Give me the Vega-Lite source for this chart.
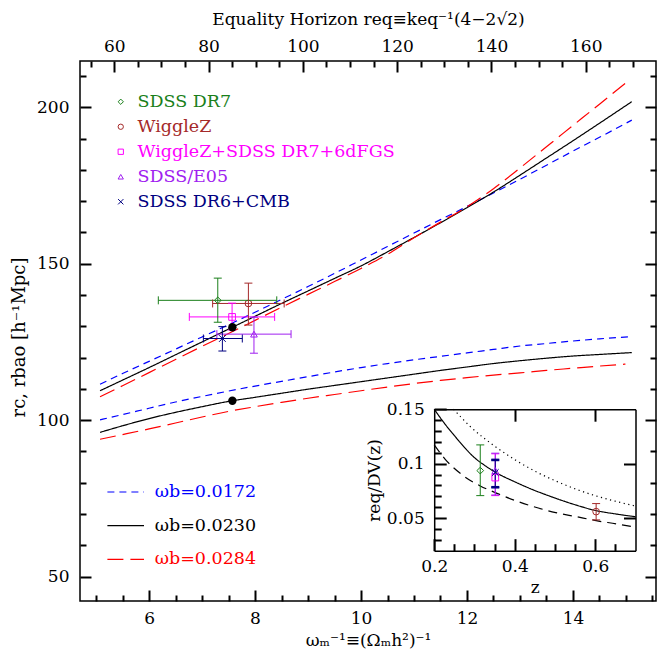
{
"$schema":"https://vega.github.io/schema/vega-lite/v6.json",
"width":576,"height":540,
"autosize":{"type":"none"},
"padding":{"left":80,"top":61,"right":1,"bottom":52},
"background":"white",
"config":{
 "font":"DejaVu Serif",
 "view":{"stroke":"black","strokeWidth":1.5},
 "axis":{"grid":false,"labelFont":"DejaVu Serif","labelFontSize":17,"labelColor":"black","titleFont":"DejaVu Serif","titleFontSize":17,"titleFontWeight":"normal","titleColor":"black","domainColor":"black","domainWidth":1.5,"labelFlush":false,"labelOverlap":false},
 "legend":{"labelFont":"DejaVu Serif","titleFont":"DejaVu Serif"}
},
"datasets":{
"curves":[
{"w":"0.0172","b":"u","x":5.075,"y":111.5},{"w":"0.0172","b":"u","x":5.5,"y":114.9},{"w":"0.0172","b":"u","x":6,"y":118.8},{"w":"0.0172","b":"u","x":6.5,"y":122.7},{"w":"0.0172","b":"u","x":7,"y":126.6},{"w":"0.0172","b":"u","x":7.5,"y":130.5},{"w":"0.0172","b":"u","x":8,"y":134.5},{"w":"0.0172","b":"u","x":8.5,"y":138.6},{"w":"0.0172","b":"u","x":9,"y":142.7},{"w":"0.0172","b":"u","x":9.5,"y":146.9},{"w":"0.0172","b":"u","x":10,"y":151.2},{"w":"0.0172","b":"u","x":10.5,"y":155.5},{"w":"0.0172","b":"u","x":11,"y":159.8},{"w":"0.0172","b":"u","x":11.5,"y":164.1},{"w":"0.0172","b":"u","x":12,"y":168.3},{"w":"0.0172","b":"u","x":12.5,"y":172.6},{"w":"0.0172","b":"u","x":13,"y":177.0},{"w":"0.0172","b":"u","x":13.5,"y":181.5},{"w":"0.0172","b":"u","x":14,"y":186.0},{"w":"0.0172","b":"u","x":14.5,"y":190.4},{"w":"0.0172","b":"u","x":15.11,"y":195.9},
{"w":"0.0230","b":"u","x":5.075,"y":109.4},{"w":"0.0230","b":"u","x":5.5,"y":112.8},{"w":"0.0230","b":"u","x":6,"y":116.8},{"w":"0.0230","b":"u","x":6.5,"y":120.9},{"w":"0.0230","b":"u","x":7,"y":125.0},{"w":"0.0230","b":"u","x":7.5,"y":129.1},{"w":"0.0230","b":"u","x":8,"y":133.2},{"w":"0.0230","b":"u","x":8.5,"y":137.3},{"w":"0.0230","b":"u","x":9,"y":141.3},{"w":"0.0230","b":"u","x":9.5,"y":145.3},{"w":"0.0230","b":"u","x":10,"y":149.3},{"w":"0.0230","b":"u","x":10.5,"y":153.8},{"w":"0.0230","b":"u","x":11,"y":158.4},{"w":"0.0230","b":"u","x":11.5,"y":163.1},{"w":"0.0230","b":"u","x":12,"y":167.9},{"w":"0.0230","b":"u","x":12.5,"y":172.9},{"w":"0.0230","b":"u","x":13,"y":178.3},{"w":"0.0230","b":"u","x":13.5,"y":183.8},{"w":"0.0230","b":"u","x":14,"y":189.3},{"w":"0.0230","b":"u","x":14.5,"y":194.9},{"w":"0.0230","b":"u","x":15.11,"y":201.8},
{"w":"0.0284","b":"u","x":5.075,"y":107.5},{"w":"0.0284","b":"u","x":5.5,"y":111.0},{"w":"0.0284","b":"u","x":6,"y":115.2},{"w":"0.0284","b":"u","x":6.5,"y":119.4},{"w":"0.0284","b":"u","x":7,"y":123.6},{"w":"0.0284","b":"u","x":7.5,"y":127.7},{"w":"0.0284","b":"u","x":8,"y":131.9},{"w":"0.0284","b":"u","x":8.5,"y":136.1},{"w":"0.0284","b":"u","x":9,"y":140.2},{"w":"0.0284","b":"u","x":9.5,"y":144.3},{"w":"0.0284","b":"u","x":10,"y":148.5},{"w":"0.0284","b":"u","x":10.5,"y":153.0},{"w":"0.0284","b":"u","x":11,"y":158.3},{"w":"0.0284","b":"u","x":11.5,"y":163.3},{"w":"0.0284","b":"u","x":12,"y":168.2},{"w":"0.0284","b":"u","x":12.5,"y":174.0},{"w":"0.0284","b":"u","x":13,"y":180.6},{"w":"0.0284","b":"u","x":13.5,"y":187.4},{"w":"0.0284","b":"u","x":14,"y":194.2},{"w":"0.0284","b":"u","x":14.5,"y":201.0},{"w":"0.0284","b":"u","x":14.99,"y":207.7},
{"w":"0.0172","b":"l","x":5.075,"y":100.1},{"w":"0.0172","b":"l","x":5.5,"y":101.8},{"w":"0.0172","b":"l","x":6,"y":103.8},{"w":"0.0172","b":"l","x":6.5,"y":105.8},{"w":"0.0172","b":"l","x":7,"y":107.6},{"w":"0.0172","b":"l","x":7.5,"y":109.3},{"w":"0.0172","b":"l","x":8,"y":110.9},{"w":"0.0172","b":"l","x":8.5,"y":112.4},{"w":"0.0172","b":"l","x":9,"y":113.9},{"w":"0.0172","b":"l","x":9.5,"y":115.4},{"w":"0.0172","b":"l","x":10,"y":116.8},{"w":"0.0172","b":"l","x":10.5,"y":118.1},{"w":"0.0172","b":"l","x":11,"y":119.3},{"w":"0.0172","b":"l","x":11.5,"y":120.4},{"w":"0.0172","b":"l","x":12,"y":121.5},{"w":"0.0172","b":"l","x":12.5,"y":122.6},{"w":"0.0172","b":"l","x":13,"y":123.7},{"w":"0.0172","b":"l","x":13.5,"y":124.5},{"w":"0.0172","b":"l","x":14,"y":125.3},{"w":"0.0172","b":"l","x":14.5,"y":126.0},{"w":"0.0172","b":"l","x":15.11,"y":126.7},
{"w":"0.0230","b":"l","x":5.075,"y":96.1},{"w":"0.0230","b":"l","x":5.5,"y":98.2},{"w":"0.0230","b":"l","x":6,"y":100.5},{"w":"0.0230","b":"l","x":6.5,"y":102.5},{"w":"0.0230","b":"l","x":7,"y":104.3},{"w":"0.0230","b":"l","x":7.5,"y":106.0},{"w":"0.0230","b":"l","x":8,"y":107.3},{"w":"0.0230","b":"l","x":8.5,"y":108.6},{"w":"0.0230","b":"l","x":9,"y":109.9},{"w":"0.0230","b":"l","x":9.5,"y":111.1},{"w":"0.0230","b":"l","x":10,"y":112.3},{"w":"0.0230","b":"l","x":10.5,"y":113.5},{"w":"0.0230","b":"l","x":11,"y":114.7},{"w":"0.0230","b":"l","x":11.5,"y":115.9},{"w":"0.0230","b":"l","x":12,"y":117.0},{"w":"0.0230","b":"l","x":12.5,"y":118.1},{"w":"0.0230","b":"l","x":13,"y":119.0},{"w":"0.0230","b":"l","x":13.5,"y":119.8},{"w":"0.0230","b":"l","x":14,"y":120.5},{"w":"0.0230","b":"l","x":14.5,"y":121.0},{"w":"0.0230","b":"l","x":15.11,"y":121.6},
{"w":"0.0284","b":"l","x":5.075,"y":93.9},{"w":"0.0284","b":"l","x":5.5,"y":95.4},{"w":"0.0284","b":"l","x":6,"y":97.2},{"w":"0.0284","b":"l","x":6.5,"y":99.1},{"w":"0.0284","b":"l","x":7,"y":101.0},{"w":"0.0284","b":"l","x":7.5,"y":102.8},{"w":"0.0284","b":"l","x":8,"y":104.3},{"w":"0.0284","b":"l","x":8.5,"y":105.7},{"w":"0.0284","b":"l","x":9,"y":107.0},{"w":"0.0284","b":"l","x":9.5,"y":108.2},{"w":"0.0284","b":"l","x":10,"y":109.4},{"w":"0.0284","b":"l","x":10.5,"y":110.6},{"w":"0.0284","b":"l","x":11,"y":111.7},{"w":"0.0284","b":"l","x":11.5,"y":112.7},{"w":"0.0284","b":"l","x":12,"y":113.6},{"w":"0.0284","b":"l","x":12.5,"y":114.4},{"w":"0.0284","b":"l","x":13,"y":115.1},{"w":"0.0284","b":"l","x":13.5,"y":115.9},{"w":"0.0284","b":"l","x":14,"y":116.6},{"w":"0.0284","b":"l","x":14.5,"y":117.3},{"w":"0.0284","b":"l","x":14.99,"y":117.9}
],
"pts":[
{"name":"SDSS DR7","x":7.297,"y":138.3,"xlo":6.175,"xhi":8.41,"ylo":131.3,"yhi":145.4},
{"name":"WiggleZ","x":7.875,"y":137.3,"xlo":7.2,"xhi":8.55,"ylo":130.4,"yhi":143.8},
{"name":"WiggleZ+SDSS DR7+6dFGS","x":7.567,"y":133.0,"xlo":6.76,"xhi":8.37,"ylo":128.8,"yhi":137.4},
{"name":"SDSS/E05","x":7.98,"y":127.5,"xlo":7.28,"xhi":8.68,"ylo":121.4,"yhi":132.9},
{"name":"SDSS DR6+CMB","x":7.384,"y":126.1,"xlo":7.025,"xhi":7.76,"ylo":122.1,"yhi":129.9}
],
"dots":[{"x":7.573,"y":129.7},{"x":7.573,"y":106.2}],
"inset":[
{"c":"solid","z":0.2,"r":0.150},{"c":"solid","z":0.225,"r":0.1372},{"c":"solid","z":0.25,"r":0.1258},{"c":"solid","z":0.275,"r":0.1150},{"c":"solid","z":0.3,"r":0.1055},{"c":"solid","z":0.325,"r":0.0985},{"c":"solid","z":0.35,"r":0.0925},{"c":"solid","z":0.4,"r":0.0833},{"c":"solid","z":0.45,"r":0.0753},{"c":"solid","z":0.5,"r":0.0684},{"c":"solid","z":0.55,"r":0.0622},{"c":"solid","z":0.6,"r":0.0570},{"c":"solid","z":0.65,"r":0.0538},{"c":"solid","z":0.7,"r":0.0512},
{"c":"dotted","z":0.248,"r":0.150},{"c":"dotted","z":0.2896,"r":0.1341},{"c":"dotted","z":0.3517,"r":0.1157},{"c":"dotted","z":0.4015,"r":0.1034},{"c":"dotted","z":0.452,"r":0.0927},{"c":"dotted","z":0.5018,"r":0.0841},{"c":"dotted","z":0.5524,"r":0.0765},{"c":"dotted","z":0.6022,"r":0.0703},{"c":"dotted","z":0.6527,"r":0.0652},{"c":"dotted","z":0.7,"r":0.0610},
{"c":"dashed","z":0.2,"r":0.1172},{"c":"dashed","z":0.2274,"r":0.104},{"c":"dashed","z":0.273,"r":0.0887},{"c":"dashed","z":0.3144,"r":0.0795},{"c":"dashed","z":0.3517,"r":0.0734},{"c":"dashed","z":0.4015,"r":0.066},{"c":"dashed","z":0.452,"r":0.0599},{"c":"dashed","z":0.5018,"r":0.055},{"c":"dashed","z":0.5524,"r":0.0513},{"c":"dashed","z":0.6022,"r":0.0476},{"c":"dashed","z":0.6527,"r":0.0446},{"c":"dashed","z":0.7,"r":0.0415}
],
"ipts":[
{"name":"SDSS DR7","z":0.3144,"r":0.0936,"lo":0.0706,"hi":0.1172},
{"name":"WiggleZ+SDSS DR7+6dFGS","z":0.3517,"r":0.0872,"lo":0.0706,"hi":0.1090},
{"name":"SDSS/E05","z":0.3517,"r":0.0936,"lo":0.0712,"hi":0.1096},
{"name":"SDSS DR6+CMB","z":0.3517,"r":0.0918,"lo":0.0783,"hi":0.1034},
{"name":"WiggleZ","z":0.6022,"r":0.0559,"lo":0.0483,"hi":0.0633}
]
},
"layer":[
{"layer":[
 {"data":{"name":"curves"},"mark":{"type":"line","strokeWidth":1.2,"interpolate":"monotone"},
  "encoding":{
   "x":{"field":"x","type":"quantitative","scale":{"domain":[4.697,15.567],"nice":false,"zero":false},"axis":{"orient":"bottom","values":[6,8,10,12,14],"ticks":true,"tickSize":-11,"tickColor":"black","tickWidth":2,"tickOpacity":1,"domain":false,"labelPadding":20,"title":"ωₘ⁻¹≡(Ωₘh²)⁻¹","titlePadding":6}},
   "y":{"field":"y","type":"quantitative","scale":{"domain":[42.2,214.8],"nice":false,"zero":false},"axis":{"orient":"left","values":[50,100,150,200],"ticks":true,"tickSize":-11,"tickColor":"black","tickWidth":2,"tickOpacity":1,"domain":false,"labelPadding":22,"title":"rc, rbao [h⁻¹Mpc]","titleFontSize":18,"titlePadding":8,"titleY":276}},
   "stroke":{"field":"w","type":"nominal","scale":{"domain":["0.0172","0.0230","0.0284"],"range":["#0000ff","#000000","#ff0000"]},
     "legend":{"orient":"none","legendX":26.7,"legendY":412,"title":null,"padding":0,"labelFont":"DejaVu Serif","labelFontSize":17.5,"labelOffset":10,"rowPadding":5.7,"symbolSize":1340,"symbolStrokeWidth":1.2,"symbolType":"stroke","labelLimit":0,"labelExpr":"'ωb=' + datum.label","labelColor":{"expr":"datum.value == '0.0172' ? '#0000ff' : datum.value == '0.0284' ? '#ff0000' : '#000000'"}}},
   "strokeDash":{"field":"w","type":"nominal","scale":{"domain":["0.0172","0.0230","0.0284"],"range":[[7,5],[1,0],[16,7]]},
     "legend":{"orient":"none","legendX":26.7,"legendY":412,"title":null,"padding":0,"labelFont":"DejaVu Serif","labelFontSize":17.5,"labelOffset":10,"rowPadding":5.7,"symbolSize":1340,"symbolStrokeWidth":1.2,"symbolType":"stroke","labelLimit":0,"labelExpr":"'ωb=' + datum.label","labelColor":{"expr":"datum.value == '0.0172' ? '#0000ff' : datum.value == '0.0284' ? '#ff0000' : '#000000'"}}},
   "detail":{"field":"b","type":"nominal"}
  }},
 {"data":{"name":"pts"},"mark":{"type":"point","filled":false,"size":45,"strokeWidth":1,"opacity":1},
  "encoding":{
   "x":{"field":"x","type":"quantitative","scale":{"domain":[4.697,15.567],"nice":false,"zero":false}},
   "y":{"field":"y","type":"quantitative","scale":{"domain":[42.2,214.8],"nice":false,"zero":false}},
   "color":{"field":"name","type":"nominal","scale":{"domain":["SDSS DR7","WiggleZ","WiggleZ+SDSS DR7+6dFGS","SDSS/E05","SDSS DR6+CMB"],"range":["#1a7f1a","#a52a2a","#ff00ff","#a020f0","#000080"]},
     "legend":{"orient":"none","legendX":32,"legendY":32,"title":null,"padding":0,"labelFont":"DejaVu Serif","labelFontSize":17.5,"labelOffset":8,"rowPadding":6,"symbolSize":28,"symbolStrokeWidth":1,"symbolFillColor":"transparent","labelLimit":0,"labelColor":{"expr":"datum.value == 'SDSS DR7' ? '#1a7f1a' : datum.value == 'WiggleZ' ? '#a52a2a' : datum.value == 'WiggleZ+SDSS DR7+6dFGS' ? '#ff00ff' : datum.value == 'SDSS/E05' ? '#a020f0' : '#000080'"}}},
   "shape":{"field":"name","type":"nominal","scale":{"domain":["SDSS DR7","WiggleZ","WiggleZ+SDSS DR7+6dFGS","SDSS/E05","SDSS DR6+CMB"],"range":["diamond","circle","square","triangle-up","M-1,-1L1,1M-1,1L1,-1"]},
     "legend":{"orient":"none","legendX":32,"legendY":32,"title":null,"padding":0,"labelFont":"DejaVu Serif","labelFontSize":17.5,"labelOffset":8,"rowPadding":6,"symbolSize":28,"symbolStrokeWidth":1,"symbolFillColor":"transparent","labelLimit":0,"labelColor":{"expr":"datum.value == 'SDSS DR7' ? '#1a7f1a' : datum.value == 'WiggleZ' ? '#a52a2a' : datum.value == 'WiggleZ+SDSS DR7+6dFGS' ? '#ff00ff' : datum.value == 'SDSS/E05' ? '#a020f0' : '#000080'"}}}
  }},
 {"data":{"name":"pts"},"mark":{"type":"rule","strokeWidth":1},
  "encoding":{
   "x":{"field":"xlo","type":"quantitative","scale":{"domain":[4.697,15.567],"nice":false,"zero":false}},
   "x2":{"field":"xhi"},
   "y":{"field":"y","type":"quantitative","scale":{"domain":[42.2,214.8],"nice":false,"zero":false}},
   "color":{"field":"name","type":"nominal","legend":null}
  }},
 {"data":{"name":"pts"},"mark":{"type":"rule","strokeWidth":1},
  "encoding":{
   "x":{"field":"x","type":"quantitative","scale":{"domain":[4.697,15.567],"nice":false,"zero":false}},
   "y":{"field":"ylo","type":"quantitative","scale":{"domain":[42.2,214.8],"nice":false,"zero":false}},
   "y2":{"field":"yhi"},
   "color":{"field":"name","type":"nominal","legend":null}
  }},
 {"data":{"name":"pts"},"mark":{"type":"point","shape":"M0,-1L0,1","size":64,"filled":false,"strokeWidth":1,"opacity":1},
  "encoding":{
   "x":{"field":"xlo","type":"quantitative","scale":{"domain":[4.697,15.567],"nice":false,"zero":false}},
   "y":{"field":"y","type":"quantitative","scale":{"domain":[42.2,214.8],"nice":false,"zero":false}},
   "color":{"field":"name","type":"nominal","legend":null}
  }},
 {"data":{"name":"pts"},"mark":{"type":"point","shape":"M0,-1L0,1","size":64,"filled":false,"strokeWidth":1,"opacity":1},
  "encoding":{
   "x":{"field":"xhi","type":"quantitative","scale":{"domain":[4.697,15.567],"nice":false,"zero":false}},
   "y":{"field":"y","type":"quantitative","scale":{"domain":[42.2,214.8],"nice":false,"zero":false}},
   "color":{"field":"name","type":"nominal","legend":null}
  }},
 {"data":{"name":"pts"},"mark":{"type":"point","shape":"M-1,0L1,0","size":64,"filled":false,"strokeWidth":1,"opacity":1},
  "encoding":{
   "x":{"field":"x","type":"quantitative","scale":{"domain":[4.697,15.567],"nice":false,"zero":false}},
   "y":{"field":"ylo","type":"quantitative","scale":{"domain":[42.2,214.8],"nice":false,"zero":false}},
   "color":{"field":"name","type":"nominal","legend":null}
  }},
 {"data":{"name":"pts"},"mark":{"type":"point","shape":"M-1,0L1,0","size":64,"filled":false,"strokeWidth":1,"opacity":1},
  "encoding":{
   "x":{"field":"x","type":"quantitative","scale":{"domain":[4.697,15.567],"nice":false,"zero":false}},
   "y":{"field":"yhi","type":"quantitative","scale":{"domain":[42.2,214.8],"nice":false,"zero":false}},
   "color":{"field":"name","type":"nominal","legend":null}
  }},
 {"data":{"name":"dots"},"mark":{"type":"point","filled":true,"size":70,"color":"black","opacity":1},
  "encoding":{
   "x":{"field":"x","type":"quantitative","scale":{"domain":[4.697,15.567],"nice":false,"zero":false}},
   "y":{"field":"y","type":"quantitative","scale":{"domain":[42.2,214.8],"nice":false,"zero":false}}
  }}
]},
{"data":{"values":[{}]},"mark":{"type":"point","opacity":0},
 "encoding":{
  "x":{"datum":100,"type":"quantitative","scale":{"domain":[52.72,174.9],"nice":false,"zero":false},"axis":{"orient":"top","values":[60,80,100,120,140,160],"ticks":true,"tickSize":-11,"tickColor":"black","tickWidth":2,"tickOpacity":1,"domain":false,"labelPadding":17,"title":"Equality Horizon req≡keq⁻¹(4−2√2)","titlePadding":9}},
  "y":{"datum":100,"type":"quantitative","scale":{"domain":[42.2,214.8],"nice":false,"zero":false},"axis":{"orient":"left","offset":-576,"values":[50,100,150,200],"labels":false,"ticks":true,"tickColor":"black","tickWidth":2,"tickOpacity":1,"domain":false,"title":null,"tickSize":11}}
 }},
{"data":{"values":[{}]},"mark":{"type":"point","opacity":0},
 "encoding":{
  "x":{"datum":10,"type":"quantitative","scale":{"domain":[4.697,15.567],"nice":false,"zero":false},"axis":{"orient":"top","offset":-540,"values":[5,5.5,6.5,7,7.5,8.5,9,9.5,10.5,11,11.5,12.5,13,13.5,14.5,15,15.5],"labels":false,"ticks":true,"tickColor":"black","tickWidth":2,"tickOpacity":1,"domain":false,"title":null,"tickSize":6}},
  "y":{"datum":100,"type":"quantitative","scale":{"domain":[42.2,214.8],"nice":false,"zero":false},"axis":{"orient":"right","offset":-576,"values":[60,70,80,90,110,120,130,140,160,170,180,190,210],"labels":false,"ticks":true,"tickColor":"black","tickWidth":2,"tickOpacity":1,"domain":false,"title":null,"tickSize":6}}
 }},
{"data":{"values":[{}]},"mark":{"type":"point","opacity":0},
 "encoding":{
  "x":{"datum":100,"type":"quantitative","scale":{"domain":[52.72,174.9],"nice":false,"zero":false},"axis":{"orient":"bottom","offset":-540,"values":[55,65,70,75,85,90,95,105,110,115,125,130,135,145,150,155,165,170],"labels":false,"ticks":true,"tickColor":"black","tickWidth":2,"tickOpacity":1,"domain":false,"title":null,"tickSize":6}},
  "y":{"datum":100,"type":"quantitative","scale":{"domain":[42.2,214.8],"nice":false,"zero":false},"axis":{"orient":"left","offset":-576,"values":[60,70,80,90,110,120,130,140,160,170,180,190,210],"labels":false,"ticks":true,"tickColor":"black","tickWidth":2,"tickOpacity":1,"domain":false,"title":null,"tickSize":6}}
 }},
{"layer":[
 {"data":{"name":"inset"},"mark":{"type":"line","strokeWidth":1.2,"color":"black","interpolate":"monotone"},
  "encoding":{
   "x":{"field":"z","type":"quantitative","scale":{"domain":[0.2,0.7],"nice":false,"zero":false,"range":[354.2,555.5]},"axis":{"orient":"bottom","offset":-50.3,"values":[0.2,0.4,0.6],"format":"~g","ticks":true,"tickSize":-12,"tickColor":"black","tickWidth":2,"tickOpacity":1,"domain":false,"labelPadding":20,"title":"z","titlePadding":5}},
   "y":{"field":"r","type":"quantitative","scale":{"domain":[0.02,0.15],"nice":false,"zero":false,"range":[489.7,348.2]},"axis":{"orient":"left","offset":-354.2,"values":[0.05,0.1,0.15],"format":"~g","ticks":true,"tickSize":-12,"tickColor":"black","tickWidth":2,"tickOpacity":1,"domain":false,"labelPadding":22,"title":"req/DV(z)","titlePadding":3}},
   "strokeDash":{"field":"c","type":"nominal","scale":{"domain":["solid","dotted","dashed"],"range":[[1,0],[1.2,3.5],[9,6]]},"legend":null}
  }},
 {"data":{"name":"ipts"},"mark":{"type":"rule"},
  "encoding":{
   "x":{"field":"z","type":"quantitative","scale":{"domain":[0.2,0.7],"nice":false,"zero":false,"range":[354.2,555.5]}},
   "y":{"field":"lo","type":"quantitative","scale":{"domain":[0.02,0.15],"nice":false,"zero":false,"range":[489.7,348.2]}},
   "y2":{"field":"hi"},
   "color":{"field":"name","type":"nominal","scale":{"domain":["SDSS DR7","WiggleZ","WiggleZ+SDSS DR7+6dFGS","SDSS/E05","SDSS DR6+CMB"],"range":["#1a7f1a","#a52a2a","#ff00ff","#a020f0","#000080"]},"legend":null},
   "size":{"field":"name","type":"nominal","scale":{"domain":["SDSS DR7","WiggleZ","WiggleZ+SDSS DR7+6dFGS","SDSS/E05","SDSS DR6+CMB"],"range":[1,1,1,1,2.6]},"legend":null}
  }},
 {"data":{"name":"ipts"},"mark":{"type":"point","shape":"M-1,0L1,0","size":64,"filled":false,"strokeWidth":1,"opacity":1},
  "encoding":{
   "x":{"field":"z","type":"quantitative","scale":{"domain":[0.2,0.7],"nice":false,"zero":false,"range":[354.2,555.5]}},
   "y":{"field":"lo","type":"quantitative","scale":{"domain":[0.02,0.15],"nice":false,"zero":false,"range":[489.7,348.2]}},
   "color":{"field":"name","type":"nominal","legend":null}
  }},
 {"data":{"name":"ipts"},"mark":{"type":"point","shape":"M-1,0L1,0","size":64,"filled":false,"strokeWidth":1,"opacity":1},
  "encoding":{
   "x":{"field":"z","type":"quantitative","scale":{"domain":[0.2,0.7],"nice":false,"zero":false,"range":[354.2,555.5]}},
   "y":{"field":"hi","type":"quantitative","scale":{"domain":[0.02,0.15],"nice":false,"zero":false,"range":[489.7,348.2]}},
   "color":{"field":"name","type":"nominal","legend":null}
  }},
 {"data":{"name":"ipts"},"transform":[{"filter":"datum.name == 'SDSS DR6+CMB'"}],"mark":{"type":"point","shape":"M-1,0L1,0","size":64,"filled":false,"strokeWidth":2.6,"opacity":1,"color":"#000080"},
  "encoding":{
   "x":{"field":"z","type":"quantitative","scale":{"domain":[0.2,0.7],"nice":false,"zero":false,"range":[354.2,555.5]}},
   "y":{"field":"lo","type":"quantitative","scale":{"domain":[0.02,0.15],"nice":false,"zero":false,"range":[489.7,348.2]}}
  }},
 {"data":{"name":"ipts"},"transform":[{"filter":"datum.name == 'SDSS DR6+CMB'"}],"mark":{"type":"point","shape":"M-1,0L1,0","size":64,"filled":false,"strokeWidth":2.6,"opacity":1,"color":"#000080"},
  "encoding":{
   "x":{"field":"z","type":"quantitative","scale":{"domain":[0.2,0.7],"nice":false,"zero":false,"range":[354.2,555.5]}},
   "y":{"field":"hi","type":"quantitative","scale":{"domain":[0.02,0.15],"nice":false,"zero":false,"range":[489.7,348.2]}}
  }},
 {"data":{"name":"ipts"},"mark":{"type":"point","filled":false,"size":45,"strokeWidth":1,"opacity":1},
  "encoding":{
   "x":{"field":"z","type":"quantitative","scale":{"domain":[0.2,0.7],"nice":false,"zero":false,"range":[354.2,555.5]}},
   "y":{"field":"r","type":"quantitative","scale":{"domain":[0.02,0.15],"nice":false,"zero":false,"range":[489.7,348.2]}},
   "color":{"field":"name","type":"nominal","legend":null},
   "shape":{"field":"name","type":"nominal","scale":{"domain":["SDSS DR7","WiggleZ","WiggleZ+SDSS DR7+6dFGS","SDSS/E05","SDSS DR6+CMB"],"range":["diamond","circle","square","triangle-up","M-1,-1L1,1M-1,1L1,-1"]},"legend":null}
  }}
]},
{"data":{"values":[{}]},"mark":{"type":"point","opacity":0},
 "encoding":{
  "x":{"datum":0.45,"type":"quantitative","scale":{"domain":[0.2,0.7],"nice":false,"zero":false,"range":[354.2,555.5]},"axis":{"orient":"top","offset":-489.7,"values":[0.25,0.3,0.35,0.45,0.5,0.55,0.65],"labels":false,"ticks":true,"tickColor":"black","tickWidth":2,"tickOpacity":1,"tickSize":7,"domain":true,"title":null}},
  "y":{"datum":0.08,"type":"quantitative","scale":{"domain":[0.02,0.15],"nice":false,"zero":false,"range":[489.7,348.2]},"axis":{"orient":"right","offset":-221.8,"values":[0.03,0.04,0.06,0.07,0.08,0.09,0.11,0.12,0.13,0.14],"labels":false,"ticks":true,"tickColor":"black","tickWidth":2,"tickOpacity":1,"tickSize":7,"domain":true,"title":null}}
 }},
{"data":{"values":[{}]},"mark":{"type":"point","opacity":0},
 "encoding":{
  "x":{"datum":0.45,"type":"quantitative","scale":{"domain":[0.2,0.7],"nice":false,"zero":false,"range":[354.2,555.5]},"axis":{"orient":"bottom","offset":-191.8,"values":[0.4,0.6],"labels":false,"ticks":true,"tickColor":"black","tickWidth":2,"tickOpacity":1,"tickSize":12,"domain":true,"title":null}},
  "y":{"datum":0.08,"type":"quantitative","scale":{"domain":[0.02,0.15],"nice":false,"zero":false,"range":[489.7,348.2]},"axis":{"orient":"left","offset":-555.5,"values":[0.05,0.1],"labels":false,"ticks":true,"tickColor":"black","tickWidth":2,"tickOpacity":1,"tickSize":12,"domain":true,"title":null}}
 }}
],
"resolve":{"scale":{"x":"independent","y":"independent","color":"independent","shape":"independent","stroke":"independent","strokeDash":"independent","size":"independent"},"axis":{"x":"independent","y":"independent"}}
}
